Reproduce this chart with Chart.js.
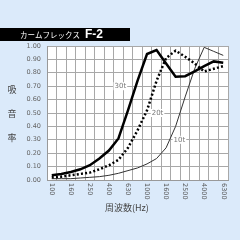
<!DOCTYPE html>
<html lang="ja">
  <head>
    <meta charset="UTF-8" />
    <title>カームフレックス F-2</title>
    <style>
      html, body {
        margin: 0;
        padding: 0;
        background-color: #dbeafa;
      }
      #wrap {
        position: relative;
        width: 240px;
        height: 240px;
      }
    </style>
  </head>
  <body>
    <div id="wrap">
      <canvas id="absorbChart" width="240" height="240"></canvas>
    </div>
    <script src="https://cdn.jsdelivr.net/npm/chart.js"></script>
    <script>
      // 1/3 octave bands (Hz)
      const freqs = ["100", "125", "160", "200", "250", "315", "400", "500", "630", "800",
        "1000", "1250", "1600", "2000", "2500", "3150", "4000", "5000", "6300"];
      const yTicks = [0, 0.1, 0.2, 0.3, 0.4, 0.5, 0.6, 0.7, 0.8, 0.9, 1.0];

      // sound absorption coefficient by thickness
      const t30 = [0.035, 0.045, 0.06, 0.08, 0.11, 0.16, 0.22, 0.31, 0.52, 0.74,
        0.94, 0.97, 0.87, 0.77, 0.775, 0.81, 0.85, 0.885, 0.875];
      const t20 = [0.02, 0.025, 0.035, 0.045, 0.055, 0.08, 0.11, 0.15, 0.24, 0.37,
        0.52, 0.74, 0.91, 0.965, 0.92, 0.87, 0.81, 0.83, 0.85];
      const t10 = [0.01, 0.01, 0.01, 0.015, 0.02, 0.025, 0.035, 0.05, 0.07, 0.09,
        0.12, 0.16, 0.24, 0.40, 0.62, 0.83, 0.99, 0.96, 0.93];

      const seriesNames = ["30t", "20t", "10t"];
      // where each name tag sits: [band index, value]
      const tagPos = [[7.2, 0.70], [11.1, 0.50], [13.4, 0.30]];

      const decor = {
        id: "decor",
        beforeDraw(chart) {
          const { ctx, chartArea: a } = chart;
          ctx.save();
          ctx.fillStyle = "#ffffff";
          ctx.fillRect(a.left, a.top, a.right - a.left, a.bottom - a.top);
          ctx.restore();
        },
        afterDraw(chart) {
          const { ctx } = chart;
          const xs = chart.scales.x;
          const ys = chart.scales.y;
          ctx.save();

          // title bar
          ctx.fillStyle = "#000";
          ctx.fillRect(0, 28, 130, 13);
          ctx.fillStyle = "#fff";
          ctx.textBaseline = "middle";
          ctx.textAlign = "left";
          ctx.font = "7.5px 'Noto Sans CJK JP'";
          ctx.fillText("カームフレックス", 20, 35);
          const tw = ctx.measureText("カームフレックス").width;
          ctx.font = "bold 12px 'Liberation Sans', Arial";
          ctx.fillText("F-2", Math.max(81, 20 + tw + 5), 35);

          // x tick labels, rotated clockwise
          ctx.fillStyle = "#555";
          ctx.font = "6.5px 'DejaVu Sans'";
          freqs.forEach((f, i) => {
            if (i % 2) return;
            ctx.save();
            ctx.translate(xs.getPixelForValue(i), xs.bottom + 3);
            ctx.rotate(Math.PI / 2);
            ctx.textAlign = "left";
            ctx.textBaseline = "middle";
            ctx.fillText(f, 0, 0);
            ctx.restore();
          });

          // axis titles
          ctx.fillStyle = "#444";
          ctx.font = "9px 'Noto Sans CJK JP'";
          ctx.textAlign = "center";
          ctx.textBaseline = "middle";
          ["吸", "音", "率"].forEach((c, i) => ctx.fillText(c, 12, [90, 114, 138][i]));
          ctx.textAlign = "left";
          ctx.fillText("周波数(Hz)", 105, 208);

          // series name tags
          ctx.font = "7px 'DejaVu Sans'";
          ctx.textAlign = "center";
          seriesNames.forEach((n, i) => {
            const px = xs.getPixelForValue(tagPos[i][0]);
            const py = ys.getPixelForValue(tagPos[i][1]);
            const w = ctx.measureText(n).width + 2;
            ctx.fillStyle = "#fff";
            ctx.fillRect(px - w / 2, py - 4, w, 8);
            ctx.fillStyle = "#777";
            ctx.fillText(n, px, py);
          });
          ctx.restore();
        },
      };

      new Chart(document.getElementById("absorbChart").getContext("2d"), {
        type: "line",
        data: {
          labels: freqs,
          datasets: [
            { label: seriesNames[0], data: t30, borderColor: "#000", borderWidth: 2.5 },
            { label: seriesNames[1], data: t20, borderColor: "#000", borderWidth: 2.5, borderDash: [2, 2.2] },
            { label: seriesNames[2], data: t10, borderColor: "#333", borderWidth: 1 },
          ],
        },
        options: {
          responsive: false,
          animation: false,
          layout: { padding: { top: 46, right: 12, bottom: 60, left: 0 } },
          elements: { point: { radius: 0 }, line: { tension: 0, borderCapStyle: "butt" } },
          plugins: { legend: { display: false }, tooltip: { enabled: false } },
          scales: {
            x: {
              offset: true,
              grid: { offset: true, color: "#a8a8a8", lineWidth: 1, drawTicks: false },
              border: { color: "#999" },
              ticks: { display: false },
            },
            y: {
              min: 0,
              max: 1,
              afterFit: (s) => { s.width = 47; },
              afterBuildTicks: (s) => { s.ticks = yTicks.map((v) => ({ value: v })); },
              grid: { color: "#a8a8a8", lineWidth: 1, drawTicks: false },
              border: { color: "#999" },
              ticks: {
                padding: 6,
                color: "#666",
                font: { size: 6.5, family: "DejaVu Sans" },
                callback: (v) => v.toFixed(2),
              },
            },
          },
        },
        plugins: [decor],
      });
    </script>
  </body>
</html>
